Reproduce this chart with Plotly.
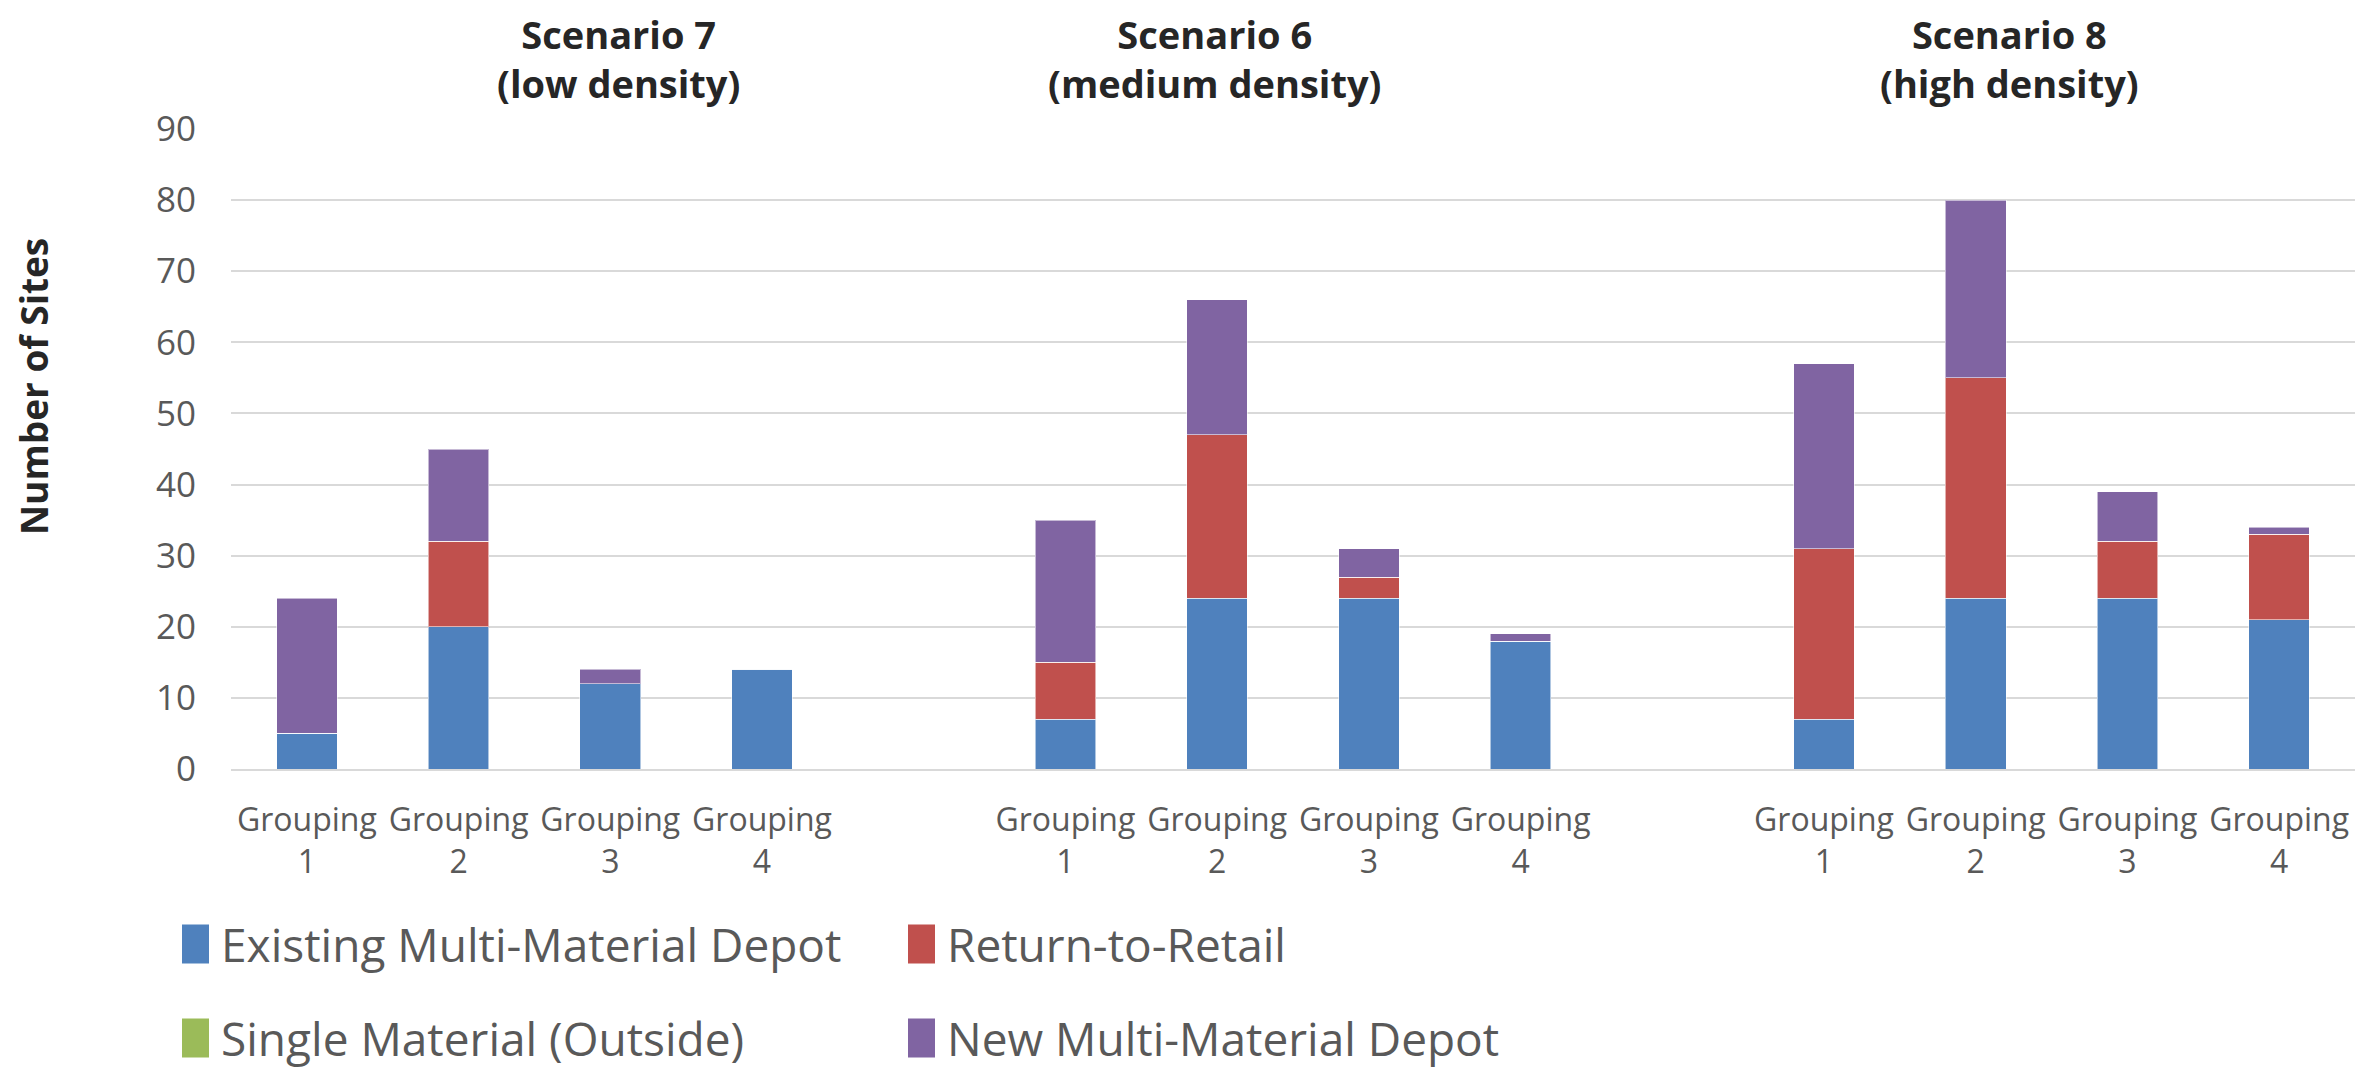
import plotly.graph_objects as go

# ---- data -------------------------------------------------------------
scenarios = ["Scenario 7<br>(low density)",
             "Scenario 6<br>(medium density)",
             "Scenario 8<br>(high density)"]
groupings = ["Grouping<br>1", "Grouping<br>2", "Grouping<br>3", "Grouping<br>4"]

series_names = ["Existing Multi-Material Depot", "Return-to-Retail",
                "Single Material (Outside)", "New Multi-Material Depot"]

# one value per bar: Scenario 7 (G1-G4), Scenario 6 (G1-G4), Scenario 8 (G1-G4)
existing_depot = [5, 20, 12, 14, 7, 24, 24, 18, 7, 24, 24, 21]
return_to_retail = [0, 12, 0, 0, 8, 23, 3, 0, 24, 31, 8, 12]
single_material = [0, 0, 0, 0, 0, 0, 0, 0, 0, 0, 0, 0]
new_depot = [19, 13, 2, 0, 20, 19, 4, 1, 26, 25, 7, 1]

series_values = [existing_depot, return_to_retail, single_material, new_depot]
series_colors = ["#4F81BD", "#C0504D", "#9BBB59", "#8064A2"]

# ---- canvas geometry (px) ------------------------------------------------
W, H = 2374, 1071
M_L, M_R, M_T, M_B = 231, 19, 129, 302
PW, PH = W - M_L - M_R, H - M_T - M_B


def px_x(px):
    return (px - M_L) / PW


def px_y(py):
    return (H - M_B - py) / PH


# ---- categories: four groupings per scenario, a blank slot between scenarios
cat_ids, cat_text, slot = [], [], []
for si, _ in enumerate(scenarios):
    if si > 0:
        cat_ids.append(f"gap{si}")
        cat_text.append("")
        slot.append(None)
    for gi, g in enumerate(groupings):
        cat_ids.append(f"s{si}g{gi}")
        cat_text.append(g)
        slot.append(si * len(groupings) + gi)

fig = go.Figure()
for name, vals, col in zip(series_names, series_values, series_colors):
    y = [vals[k] if k is not None else None for k in slot]
    fig.add_trace(go.Bar(
        x=cat_ids, y=y, name=name, showlegend=False,
        marker=dict(color=col, line=dict(color="rgba(255,255,255,0.55)", width=1)),
    ))

fig.update_layout(
    width=W, height=H, barmode="stack", bargap=0.6,
    margin=dict(l=M_L, r=M_R, t=M_T, b=M_B, autoexpand=False),
    paper_bgcolor="white", plot_bgcolor="white",
    font=dict(family="Open Sans", color="#595959"),
)
fig.update_xaxes(
    type="category", categoryorder="array", categoryarray=cat_ids,
    tickmode="array", tickvals=cat_ids, ticktext=cat_text, tickangle=0,
    tickfont=dict(size=32, color="#595959"), ticks="", ticklabelstandoff=22,
    showgrid=False, showline=True, linecolor="#D9D9D9", linewidth=2,
    range=[-0.5, len(cat_ids) - 0.5],
)
fig.update_yaxes(
    range=[0, 90], dtick=10, tickfont=dict(size=35, color="#595959"),
    showgrid=True, gridcolor="#D9D9D9", gridwidth=2, zeroline=False,
    ticks="", ticklabelstandoff=34, showline=False,
)

# scenario headings
title_px = [618, 1214, 2009]
for text, cx in zip(scenarios, title_px):
    fig.add_annotation(
        text=f"<b>{text}</b>", xref="paper", yref="paper",
        x=px_x(cx), y=px_y(58), xanchor="center", yanchor="middle",
        showarrow=False, font=dict(size=38, color="#262626"),
    )

# vertical axis title
fig.add_annotation(
    text="<b>Number of Sites</b>", xref="paper", yref="paper",
    x=px_x(33), y=px_y(387), xanchor="center", yanchor="middle",
    textangle=-90, showarrow=False, font=dict(size=37, color="#262626"),
)

# legend: two columns, two rows
leg_cols = [182, 908]
leg_rows = [944, 1038]
sw_w, sw_h = 27, 39
for i, (name, col) in enumerate(zip(series_names, series_colors)):
    lx = leg_cols[i % 2]
    ly = leg_rows[i // 2]
    fig.add_shape(
        type="rect", xref="paper", yref="paper",
        x0=px_x(lx), x1=px_x(lx + sw_w),
        y0=px_y(ly + sw_h / 2), y1=px_y(ly - sw_h / 2),
        fillcolor=col, line=dict(width=0),
    )
    fig.add_annotation(
        text=name, xref="paper", yref="paper",
        x=px_x(lx + sw_w + 10), y=px_y(ly), xanchor="left", yanchor="middle",
        showarrow=False, font=dict(size=46, color="#595959"),
    )

fig.write_html("out.html")
